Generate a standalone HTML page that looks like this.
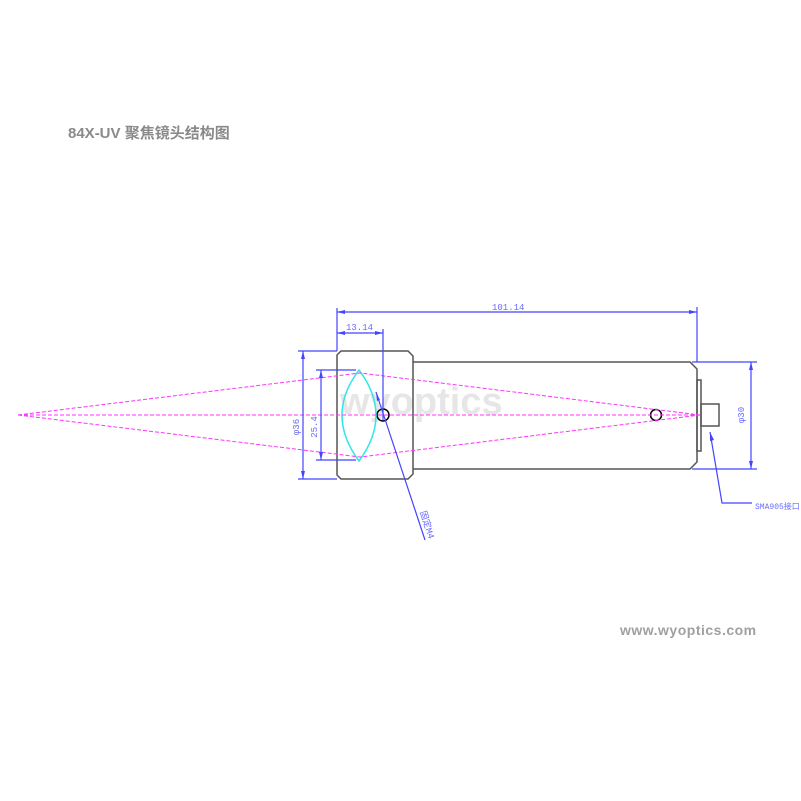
<!DOCTYPE html>
<html><head><meta charset="utf-8"><style>
html,body{margin:0;padding:0;background:#fff;}
svg{display:block;}
</style></head><body>
<svg width="801" height="801" viewBox="0 0 801 801" xmlns="http://www.w3.org/2000/svg">
<rect width="801" height="801" fill="#fff"/>
<text x="68" y="138" font-family="Liberation Sans, Noto Sans CJK SC, sans-serif" font-size="15" font-weight="bold" fill="#8a8a8a">84X-UV 聚焦镜头结构图</text>
<text x="340" y="414" font-family="Liberation Sans, sans-serif" font-size="38" font-weight="bold" fill="#e6e6e6">wyoptics</text>
<text x="620" y="635" font-family="Liberation Sans, sans-serif" font-size="14" font-weight="bold" letter-spacing="0.5" fill="#a0a0a0">www.wyoptics.com</text>

<g fill="none" stroke="#555" stroke-width="1.5">
<path d="M341,351 L408,351 L413,356 L413,474 L408,479 L341,479 L337,475 L337,355 Z"/>
<path d="M413,362 L690,362 L697,369 L697,462 L690,469 L413,469"/>
<rect x="697" y="380" width="4" height="71"/>
<rect x="701" y="404" width="18" height="22"/>
<circle cx="383" cy="415" r="6" stroke="#000"/>
<circle cx="656" cy="415" r="5.5" stroke="#000"/>
</g>
<path d="M359,370 Q325,415 359,461 Q393,415 359,370 Z" fill="none" stroke="#33e6e6" stroke-width="1.5"/>

<g stroke="#ff33ff" stroke-width="1" stroke-dasharray="4,2" fill="none">
<line x1="18" y1="415" x2="700" y2="415"/>
<polyline points="18,415 360,373 700,415"/>
<polyline points="18,415 360,457 700,415"/>
</g>

<g stroke="#4444ff" stroke-width="1.2" fill="none">
<line x1="337" y1="308" x2="337" y2="351"/>
<line x1="697" y1="307" x2="697" y2="362"/>
<line x1="337" y1="312" x2="697" y2="312"/>
<line x1="337" y1="333" x2="383" y2="333"/>
<line x1="383" y1="329" x2="383" y2="420"/>
<line x1="298" y1="351" x2="337" y2="351"/>
<line x1="298" y1="479" x2="337" y2="479"/>
<line x1="303" y1="351" x2="303" y2="479"/>
<line x1="316" y1="370" x2="356" y2="370"/>
<line x1="316" y1="460" x2="356" y2="460"/>
<line x1="321" y1="370" x2="321" y2="460"/>
<line x1="692" y1="362" x2="757" y2="362"/>
<line x1="692" y1="469" x2="757" y2="469"/>
<line x1="751" y1="362" x2="751" y2="469"/>
<polyline points="710,432 722,503 752,503"/>
<line x1="376" y1="392" x2="425" y2="540"/>
</g>
<g fill="#4444ff">
<path d="M337,312 l8,-2 v4 z"/><path d="M697,312 l-8,-2 v4 z"/>
<path d="M337,333 l8,-2 v4 z"/><path d="M383,333 l-8,-2 v4 z"/>
<path d="M303,351 l-2,8 h4 z"/><path d="M303,479 l-2,-8 h4 z"/>
<path d="M321,370 l-2,8 h4 z"/><path d="M321,460 l-2,-8 h4 z"/>
<path d="M751,362 l-2,8 h4 z"/><path d="M751,469 l-2,-8 h4 z"/>
<path d="M710,432 l0,9 l4,-1 z"/>
<path d="M376,392 l1,9 l3,-1 z"/>
</g>
<g font-family="Liberation Mono, Noto Sans CJK SC, monospace" font-size="9" fill="#6a6aff">
<text x="492" y="310">101.14</text>
<text x="346" y="330">13.14</text>
<text x="755" y="509" font-size="8">SMA905接口</text>
<text transform="translate(299,427) rotate(-90)" text-anchor="middle">φ36</text>
<text transform="translate(317,427) rotate(-90)" text-anchor="middle">25.4</text>
<text transform="translate(744,415) rotate(-90)" text-anchor="middle">φ30</text>
<text transform="translate(420,512) rotate(72)" font-size="9">固定M4</text>
</g>
</svg>
</body></html>
